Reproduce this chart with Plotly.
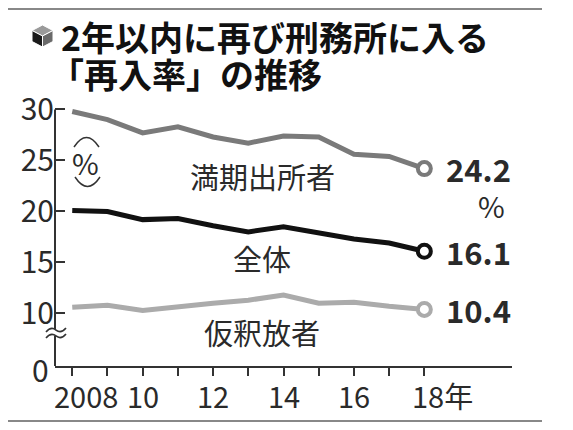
import plotly.graph_objects as go

# ---- data ----
years = [2008, 2009, 2010, 2011, 2012, 2013, 2014, 2015, 2016, 2017, 2018]
mangi = [29.8, 29.0, 27.7, 28.3, 27.3, 26.7, 27.4, 27.3, 25.6, 25.4, 24.2]      # 満期出所者
zentai = [20.1, 20.0, 19.2, 19.3, 18.6, 18.0, 18.5, 17.9, 17.3, 16.9, 16.1]     # 全体
karishaku = [10.6, 10.8, 10.3, 10.7, 11.0, 11.3, 11.8, 11.0, 11.1, 10.7, 10.4]  # 仮釈放者

series_names = ["満期出所者", "全体", "仮釈放者"]
x_tick_vals = [2008, 2010, 2012, 2014, 2016, 2018]
x_tick_text = ["2008", "10", "12", "14", "16", "18年"]
y_tick_vals = [10, 15, 20, 25, 30]
y_tick_text = ["10", "15", "20", "25", "30"]
y_zero_text = "0"

title1 = "2年以内に再び刑務所に入る"
title2 = "「再入率」の推移"

# ---- layout helpers ----
# The page body has an 8px margin, so the figure is drawn 8px in and kept
# small enough that the page does not overflow the 573x430 window.
OFF = 8
FW, FH = 557, 414
FONT = "Noto Sans CJK JP"
def px(x):
    return (x - OFF) / FW
def py(y):
    return 1 - (y - OFF) / FH

Y_BOTTOM = 4.85   # broken axis: value drawn at the "0" position
Y_TOP = 30.3

c_mangi = "#7a7a7a"
c_zentai = "#111111"
c_kari = "#ababab"
c_text = "#2a2a2a"

fig = go.Figure()

for ys, col in [(karishaku, c_kari), (mangi, c_mangi), (zentai, c_zentai)]:
    fig.add_trace(go.Scatter(x=years, y=ys, mode="lines",
                             line=dict(color=col, width=5), hoverinfo="skip",
                             showlegend=False))
for ys, col in [(karishaku, c_kari), (mangi, c_mangi), (zentai, c_zentai)]:
    fig.add_trace(go.Scatter(x=[years[-1]], y=[ys[-1]], mode="markers",
                             marker=dict(symbol="circle", size=13, color="white",
                                         line=dict(color=col, width=4)),
                             hoverinfo="skip", showlegend=False, cliponaxis=False))

annotations = []
for ys in [mangi, zentai, karishaku]:
    annotations.append(dict(x=years[-1] + 0.57, y=ys[-1], xref="x", yref="y",
                            text=f"{ys[-1]:.1f}", showarrow=False,
                            xanchor="left", yanchor="middle",
                            font=dict(family=FONT, size=31, color=c_text, weight=700)))
annotations.append(dict(x=years[-1] + 1.92, y=mangi[-1] - 3.6, xref="x", yref="y",
                        text="%", showarrow=False, xanchor="center", yanchor="middle",
                        font=dict(family=FONT, size=29, color=c_text)))
name_pos = [(2013.4, 23.5), (2013.4, 15.45), (2013.4, 8.2)]
for name, (nx, ny) in zip(series_names, name_pos):
    annotations.append(dict(x=nx, y=ny, xref="x", yref="y", text=name,
                            showarrow=False, xanchor="center", yanchor="middle",
                            font=dict(family=FONT, size=29, color=c_text)))
annotations.append(dict(x=px(85), y=py(162), xref="paper", yref="paper", text="%",
                        showarrow=False, xanchor="center", yanchor="middle",
                        font=dict(family=FONT, size=29, color=c_text)))
for v, t in zip(x_tick_vals, x_tick_text):
    if t == x_tick_text[0]:
        annotations.append(dict(x=px(52), y=py(395), xref="paper", yref="paper",
                                text=t, showarrow=False, xanchor="left", yanchor="middle",
                                font=dict(family=FONT, size=29, color=c_text)))
    elif t == x_tick_text[-1]:
        annotations.append(dict(x=v - 0.42, y=py(395), xref="x", yref="paper",
                                text=t, showarrow=False, xanchor="left", yanchor="middle",
                                font=dict(family=FONT, size=29, color=c_text)))
    else:
        annotations.append(dict(x=v, y=py(395), xref="x", yref="paper",
                                text=t, showarrow=False, xanchor="center", yanchor="middle",
                                font=dict(family=FONT, size=29, color=c_text)))
annotations.append(dict(x=px(51), y=py(369), xref="paper", yref="paper", text=y_zero_text,
                        showarrow=False, xanchor="right", yanchor="middle",
                        font=dict(family=FONT, size=30, color=c_text)))
annotations.append(dict(x=px(59), y=py(37), xref="paper", yref="paper", text=title1,
                        showarrow=False, xanchor="left", yanchor="middle",
                        font=dict(family=FONT, size=34, color="#111", weight=700)))
annotations.append(dict(x=px(48), y=py(73), xref="paper", yref="paper", text=title2,
                        showarrow=False, xanchor="left", yanchor="middle",
                        font=dict(family=FONT, size=34, color="#111", weight=700)))

def ppath(points, close=True):
    s = "M " + " L ".join(f"{px(x):.5f},{py(y):.5f}" for x, y in points)
    return s + (" Z" if close else "")

shapes = []
shapes.append(dict(type="line", xref="paper", yref="paper", x0=0, x1=px(542),
                   y0=py(9), y1=py(9), line=dict(color="#888", width=2)))
shapes.append(dict(type="line", xref="paper", yref="paper", x0=0, x1=px(542),
                   y0=py(421), y1=py(421), line=dict(color="#888", width=2)))
shapes.append(dict(type="line", xref="paper", yref="y", x0=px(55), x1=px(55),
                   y0=Y_BOTTOM, y1=30, line=dict(color="#333", width=2)))
shapes.append(dict(type="rect", xref="paper", yref="paper", x0=px(50), x1=px(60),
                   y0=py(336), y1=py(329), fillcolor="white", line=dict(width=0),
                   layer="above"))
for dy in (0, 6):
    y0 = 330 + dy
    d = (f"M {px(46):.5f},{py(y0+2):.5f} Q {px(51):.5f},{py(y0-4):.5f} {px(56):.5f},{py(y0):.5f}"
         f" T {px(66):.5f},{py(y0-2):.5f}")
    shapes.append(dict(type="path", xref="paper", yref="paper", path=d,
                       line=dict(color="#333", width=1.6), layer="above"))
shapes.append(dict(type="path", xref="paper", yref="paper",
                   path=f"M {px(74):.5f},{py(147):.5f} Q {px(86.5):.5f},{py(128):.5f} {px(99):.5f},{py(147):.5f}",
                   line=dict(color="#333", width=1.5)))
shapes.append(dict(type="path", xref="paper", yref="paper",
                   path=f"M {px(75):.5f},{py(177):.5f} Q {px(87.5):.5f},{py(196):.5f} {px(100):.5f},{py(177):.5f}",
                   line=dict(color="#333", width=1.5)))
cx, cy = 42.5, 36
top = (cx, 25); ur = (53, 30.5); lr = (53, 41.5); bot = (cx, 47); ll = (32, 41.5); ul = (32, 30.5); ctr = (cx, cy)
shapes.append(dict(type="path", xref="paper", yref="paper", path=ppath([top, ur, ctr, ul]),
                   fillcolor="#9a9a9a", line=dict(color="white", width=1)))
shapes.append(dict(type="path", xref="paper", yref="paper", path=ppath([ul, ctr, bot, ll]),
                   fillcolor="#1a1a1a", line=dict(color="white", width=1)))
shapes.append(dict(type="path", xref="paper", yref="paper", path=ppath([ctr, ur, lr, bot]),
                   fillcolor="#6a6a6a", line=dict(color="white", width=1)))

fig.update_layout(
    width=FW, height=FH,
    margin=dict(l=0, r=0, t=0, b=0, autoexpand=False),
    paper_bgcolor="white", plot_bgcolor="white",
    showlegend=False,
    xaxis=dict(domain=[px(55), px(512)], range=[2007.51, 2020.49],
               showline=True, linecolor="#333", linewidth=2,
               ticks="outside", tickvals=years, ticklen=8, tickwidth=2, tickcolor="#333",
               showticklabels=False, showgrid=False, zeroline=False, fixedrange=True),
    yaxis=dict(domain=[py(366), py(106.4)], range=[Y_BOTTOM, Y_TOP],
               showline=False, ticks="inside", tickvals=y_tick_vals, ticktext=y_tick_text,
               ticklen=10, tickwidth=2, tickcolor="#333",
               tickfont=dict(family=FONT, size=30, color=c_text),
               showgrid=False, zeroline=False, fixedrange=True),
    annotations=annotations,
    shapes=shapes,
)

fig.write_html("out.html")
